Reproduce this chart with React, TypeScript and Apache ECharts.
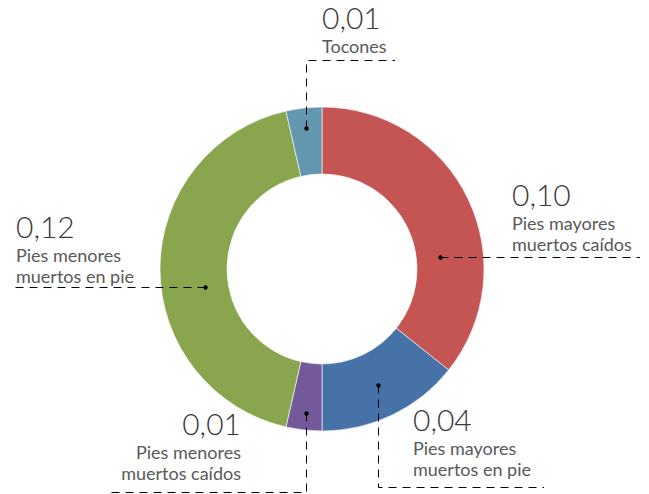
import React, { useEffect, useRef } from "react";
import * as echarts from "echarts";

// ---- data ----
const categories = [
  "Pies mayores muertos caídos",
  "Pies mayores muertos en pie",
  "Pies menores muertos caídos",
  "Pies menores muertos en pie",
  "Tocones",
];
const values = [0.1, 0.04, 0.01, 0.12, 0.01];
const colors = ["#C55553", "#4672A8", "#74599A", "#89A54E", "#6297AF"];

// ---- layout (positions/styles only) ----
const CX = 322;
const CY = 269;
const R_IN = 95;
const R_OUT = 162;
// anchor offset (deg) from slice mid-angle, anchor radius, leader route, text box
const labelLayouts = [
  { dAng: 20, r: 119, route: "h", endX: 640, tx: 512, ty: 176, align: "left" },
  { dAng: 0, r: 129, route: "v", turnY: 487, endX: 544, tx: 413, ty: 401, align: "left" },
  { dAng: 0, r: 145, route: "v", turnY: 492, endX: 110, tx: 241, ty: 405, align: "right" },
  { dAng: -9, r: 118, route: "h", endX: 15, tx: 16, ty: 208, align: "left" },
  { dAng: 0, r: 142, route: "v", turnY: 60, endX: 395, tx: 322, ty: -1, align: "left" },
];

const total = values.reduce((a, b) => a + b, 0);
const crisp = (v: number) => Math.round(v) + 0.5;
function anchorPoint(i: number): [number, number] {
  let start = 0;
  for (let k = 0; k < i; k++) start += (values[k] / total) * 360;
  const mid = start + (values[i] / total) * 180 + labelLayouts[i].dAng;
  const rad = (mid * Math.PI) / 180;
  const r = labelLayouts[i].r;
  return [crisp(CX + r * Math.sin(rad)), crisp(CY - r * Math.cos(rad))];
}
function linePoints(i: number): number[][] {
  const L: any = labelLayouts[i];
  const a = anchorPoint(i);
  if (L.route === "h") {
    return [a, [L.endX, a[1]]];
  }
  return [a, [a[0], crisp(L.turnY)], [L.endX, crisp(L.turnY)]];
}
const fmt = (v: number) => v.toFixed(2).replace(".", ",");

export default function App() {
  const ref = useRef<HTMLDivElement>(null);
  useEffect(() => {
    document.body.style.margin = "0";
    const chart = echarts.init(ref.current!, null, { renderer: "svg" });
    const leaders: any[] = [];
    values.forEach((_, i) => {
      const a = anchorPoint(i);
      leaders.push({
        type: "polyline",
        shape: { points: linePoints(i) },
        style: { stroke: "#000000", lineWidth: 1, lineDash: [8, 6], fill: null },
        silent: true,
        z: 100,
      });
      leaders.push({
        type: "circle",
        shape: { cx: a[0], cy: a[1], r: 2.2 },
        style: { fill: "#000000" },
        silent: true,
        z: 101,
      });
    });
    chart.setOption({
      animation: false,
      backgroundColor: "#ffffff",
      series: [
        {
          type: "pie",
          center: [CX, CY],
          radius: [R_IN, R_OUT],
          startAngle: 90,
          clockwise: true,
          avoidLabelOverlap: false,
          data: categories.map((name, i) => ({
            name,
            value: values[i],
            itemStyle: { color: colors[i] },
          })),
          itemStyle: { borderColor: "#ffffff", borderWidth: 0.6 },
          emphasis: { disabled: true },
          label: {
            show: true,
            position: "outside",
            formatter: (p: any) =>
              `{v|${fmt(p.value)}}\n{n|${String(p.name).replace(" muertos", "\nmuertos")}}`,
            rich: {
              v: {
                fontFamily: "Lato",
                fontWeight: 300,
                fontSize: 30,
                lineHeight: 36,
                color: "#3a3a3a",
              },
              n: {
                fontFamily: "Lato",
                fontWeight: "normal",
                fontSize: 18,
                lineHeight: 21,
                color: "#595959",
              },
            },
          },
          labelLine: { show: false },
          labelLayout: (params: any) => {
            const L: any = labelLayouts[params.dataIndex];
            return { x: L.tx, y: L.ty, align: L.align, verticalAlign: "top" };
          },
        },
      ],
      graphic: leaders,
    });
    return () => chart.dispose();
  }, []);
  return <div ref={ref} style={{ width: 649, height: 494 }} />;
}
